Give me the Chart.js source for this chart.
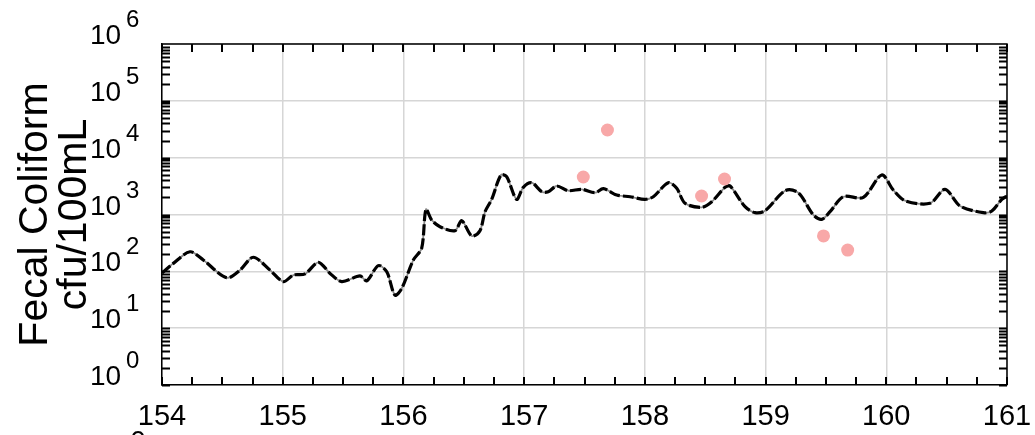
<!DOCTYPE html>
<html>
<head>
<meta charset="utf-8">
<script src="https://cdn.jsdelivr.net/npm/chart.js@4"></script>
<style>
  html, body { margin: 0; padding: 0; background: #ffffff; }
  #wrap { width: 1035px; height: 435px; position: relative; }
</style>
</head>
<body>
<div id="wrap"><canvas id="c" width="1035" height="435"></canvas></div>
<script>
// ---- data ----
const lineDay = [154.00,154.094,154.232,154.342,154.536,154.646,154.756,154.895,155.005,155.088,
  155.185,155.295,155.392,155.489,155.640,155.696,155.792,155.862,155.930,155.986,
  156.082,156.151,156.187,156.234,156.303,156.427,156.483,156.566,156.634,156.676,
  156.731,156.808,156.855,156.938,156.993,157.063,157.146,157.200,157.270,157.366,
  157.477,157.587,157.656,157.767,157.877,158.001,158.070,158.194,158.264,158.333,
  158.471,158.554,158.664,158.706,158.830,158.913,158.996,159.162,159.271,159.396,
  159.465,159.534,159.644,159.810,159.962,160.058,160.155,160.362,160.487,160.611,
  160.804,160.874,160.957,161.0];
const lineCfu = [93,138,221,158,77,105,177,105,66,86,
  90,144,92,66,83,68,126,98,38,50,
  158,254,1233,800,610,519,778,419,519,1119,
  1849,4955,4624,1849,3006,3622,2518,2518,3171,2624,
  2775,2417,2844,2203,2055,1849,2055,3622,2891,1574,
  1339,1679,3006,3171,1371,1076,1166,2624,2417,980,
  822,1119,2055,2006,4955,2698,1749,1574,2775,1410,
  1076,1151,1849,2115];
const obsDay = [157.49,157.69,158.47,158.66,159.48,159.68];
const obsCfu = [4570,30700,2115,4215,419,237];

const xTickLabels = ['154','155','156','157','158','159','160','161'];
const yTickExponents = ['0','1','2','3','4','5','6'];
const yTitleLines = ['Fecal Coliform','cfu/100mL'];

const FONT = '"Liberation Sans", Arial, Helvetica, sans-serif';

const linePts = lineDay.map((d,i)=>({x:d, y:lineCfu[i]}));
const obsPts = obsDay.map((d,i)=>({x:d, y:obsCfu[i]}));

const decor = {
  id: 'decor',
  afterDraw(chart) {
    const {ctx, chartArea: a, scales: {x, y}} = chart;
    ctx.save();
    ctx.strokeStyle = '#000';
    ctx.lineWidth = 1.5;
    ctx.beginPath();
    ctx.moveTo(a.left, a.top); ctx.lineTo(a.right, a.top); ctx.lineTo(a.right, a.bottom);
    ctx.stroke();

    // x minor/major ticks (inward, top and bottom)
    ctx.lineWidth = 2;
    ctx.beginPath();
    const xmin = Number(xTickLabels[0]), xmax = Number(xTickLabels[xTickLabels.length-1]);
    for (let k = 0; k <= (xmax - xmin) * 4; k++) {
      const px = Math.round(x.getPixelForValue(xmin + k * 0.25));
      ctx.moveTo(px, a.bottom); ctx.lineTo(px, a.bottom - 8);
      ctx.moveTo(px, a.top); ctx.lineTo(px, a.top + 8);
    }
    // y ticks (log minor), left and right, inward
    for (let e = 0; e < yTickExponents.length - 1; e++) {
      for (let m = 1; m <= 9; m++) {
        const py = Math.round(y.getPixelForValue(m * Math.pow(10, e))) + 0.5;
        ctx.moveTo(a.left, py); ctx.lineTo(a.left + 8, py);
        ctx.moveTo(a.right, py); ctx.lineTo(a.right - 8, py);
      }
    }
    ctx.stroke();

    // x tick labels
    ctx.fillStyle = '#000';
    ctx.font = '29px ' + FONT;
    ctx.textAlign = 'center';
    ctx.textBaseline = 'alphabetic';
    xTickLabels.forEach(t => {
      ctx.fillText(t, x.getPixelForValue(Number(t)), 425);
    });

    // y tick labels: 10 with superscript exponent
    yTickExponents.forEach(ex => {
      const py = y.getPixelForValue(Math.pow(10, Number(ex)));
      ctx.textAlign = 'left';
      ctx.font = '28px ' + FONT;
      ctx.fillText('10', 90, py);
      ctx.font = '24px ' + FONT;
      ctx.fillText(ex, 126, py - 17);
    });

    // partially visible glyph at the bottom edge
    ctx.font = '28px ' + FONT;
    ctx.textAlign = 'center';
    ctx.fillText('0', 138, 450);

    // y title (rotated)
    ctx.font = '41px ' + FONT;
    ctx.textAlign = 'center';
    const cy = (a.top + a.bottom) / 2;
    [[yTitleLines[0], 47], [yTitleLines[1], 86]].forEach(([t, bx]) => {
      ctx.save();
      ctx.translate(bx, cy);
      ctx.rotate(-Math.PI / 2);
      ctx.fillText(t, 0, 0);
      ctx.restore();
    });
    ctx.restore();
  }
};

new Chart(document.getElementById('c'), {
  type: 'line',
  data: {
    datasets: [
      { label: 'obs', type: 'scatter', data: obsPts, backgroundColor: '#f8a8a8', borderColor: '#f8a8a8',
        pointRadius: 6.5, pointHoverRadius: 6.5, borderWidth: 0, order: 0 },
      { label: 'model', data: linePts, borderColor: '#000', borderWidth: 3.2, borderDash: [11, 3],
        pointRadius: 0, tension: 0.3, fill: false, order: 1 },
      { label: 'model2', data: linePts, borderColor: '#888888', borderWidth: 1.8,
        pointRadius: 0, tension: 0.3, fill: false, order: 2 }
    ]
  },
  options: {
    responsive: false,
    devicePixelRatio: 1,
    animation: false,
    layout: { padding: { left: 0, top: 44, right: 28, bottom: 0 } },
    plugins: { legend: { display: false }, tooltip: { enabled: false } },
    scales: {
      x: {
        type: 'linear', min: 154, max: 161,
        afterFit: s => { s.height = 50; },
        afterBuildTicks: s => { s.ticks = xTickLabels.map(t => ({ value: Number(t) })); },
        ticks: { display: false },
        grid: { color: '#d6d6d6', lineWidth: 1.5, drawTicks: false },
        border: { display: true, color: '#000', width: 1.5 }
      },
      y: {
        type: 'logarithmic', min: 1, max: 1e6,
        afterFit: s => { s.width = 162; },
        afterBuildTicks: s => { s.ticks = yTickExponents.map(e => ({ value: Math.pow(10, Number(e)) })); },
        ticks: { display: false },
        grid: { color: '#d6d6d6', lineWidth: 1.5, drawTicks: false },
        border: { display: true, color: '#000', width: 1.5 }
      }
    }
  },
  plugins: [decor]
});
</script>
</body>
</html>
